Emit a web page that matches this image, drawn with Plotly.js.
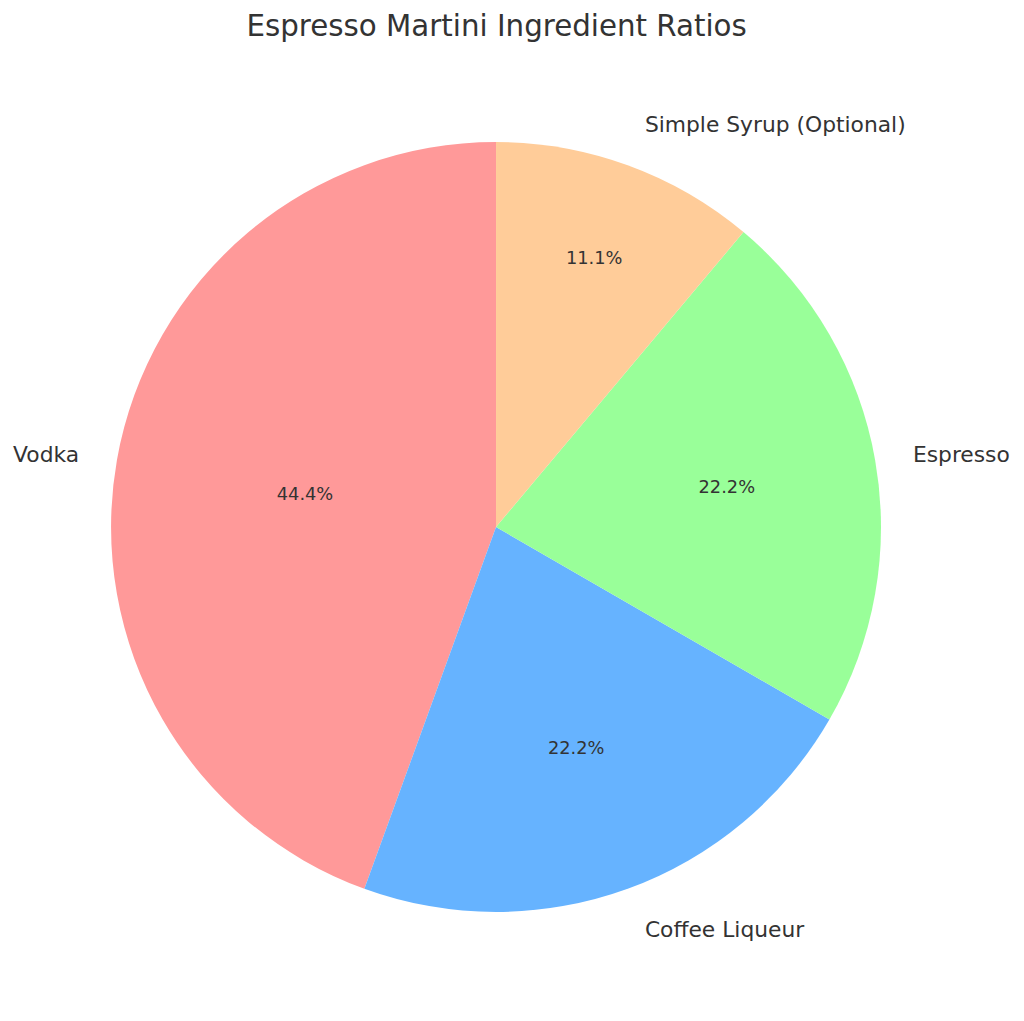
<!DOCTYPE html>
<html>
<head>
<meta charset="utf-8">
<script src="https://cdn.plot.ly/plotly-3.0.1.min.js"></script>
<style>html,body{margin:0;padding:0;background:#fff;}#chart{width:1024px;height:1021px;}</style>
</head>
<body>
<div id="chart"></div>
<script>
const labels = ["Vodka", "Coffee Liqueur", "Espresso", "Simple Syrup (Optional)"];
const values = [4, 2, 2, 1];
const colors = ["#ff9999", "#66b3ff", "#99ff99", "#ffcc99"];

const domPie = {x: [0.1084, 0.8604], y: [0.1068, 0.8609]};
const domLabels = {x: [0.07715, 0.89160], y: [0.07542, 0.89226]};
const font = "DejaVu Sans, sans-serif";

const pieColored = {
  type: "pie",
  labels: labels,
  values: values,
  sort: false,
  direction: "counterclockwise",
  rotation: 200,
  marker: {colors: colors, line: {width: 0}},
  textinfo: "percent",
  texttemplate: "%{percent:.1%}",
  textposition: "inside",
  insidetextorientation: "horizontal",
  textfont: {family: font, size: 17.8, color: "#333333"},
  domain: domPie,
  hoverinfo: "label+percent",
  showlegend: false,
  automargin: false
};

const pieLabels = {
  type: "pie",
  labels: labels,
  values: values,
  sort: false,
  direction: "counterclockwise",
  rotation: 200,
  marker: {colors: ["rgba(0,0,0,0)","rgba(0,0,0,0)","rgba(0,0,0,0)","rgba(0,0,0,0)"], line: {width: 0}},
  textinfo: "label",
  textposition: "outside",
  outsidetextfont: {family: font, size: 21.8, color: "#333333"},
  domain: domLabels,
  hoverinfo: "skip",
  showlegend: false,
  automargin: false
};

const layout = {
  width: 1024,
  height: 1021,
  margin: {l: 0, r: 0, t: 0, b: 0},
  paper_bgcolor: "#ffffff",
  title: {
    text: "Espresso Martini Ingredient Ratios",
    font: {family: font, size: 29.3, color: "#333333"},
    x: 0.485, xanchor: "center",
    y: 0.975, yanchor: "middle"
  },
  showlegend: false
};

Plotly.newPlot("chart", [pieColored, pieLabels], layout, {displayModeBar: false, staticPlot: true});
</script>
</body>
</html>
